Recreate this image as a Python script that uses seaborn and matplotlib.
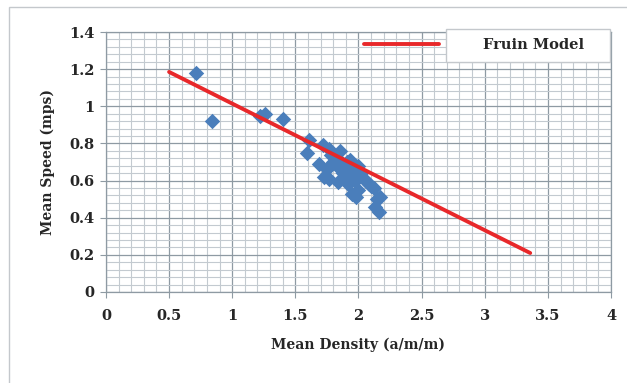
import matplotlib
matplotlib.use('Agg')
import matplotlib.pyplot as plt
from matplotlib.patches import Rectangle
from matplotlib.ticker import MultipleLocator, FormatStrFormatter
import seaborn as sns
import pandas as pd

density = [0.71, 0.84, 1.22, 1.26, 1.40, 1.61, 1.59, 1.72, 1.69, 1.77,
           1.85, 1.81, 1.75, 1.77, 1.84, 1.90, 1.93, 1.96, 1.88, 1.83,
           2.00, 2.04, 2.08, 1.95, 1.98, 2.12, 2.17, 2.13, 2.16, 1.92,
           1.86, 1.80, 1.97, 2.02, 1.89, 1.94, 2.06, 1.78, 1.91, 2.00,
           2.15, 1.87, 1.99, 2.10, 1.73]
speed = [1.18, 0.92, 0.95, 0.96, 0.93, 0.82, 0.75, 0.79, 0.69, 0.77,
         0.76, 0.73, 0.66, 0.61, 0.59, 0.67, 0.71, 0.64, 0.64, 0.68,
         0.68, 0.61, 0.58, 0.53, 0.51, 0.56, 0.51, 0.46, 0.43, 0.58,
         0.70, 0.70, 0.60, 0.64, 0.62, 0.66, 0.60, 0.74, 0.70, 0.55,
         0.50, 0.67, 0.63, 0.57, 0.62]

# Fruin model line end points
fruin_density = [0.5, 3.36]
fruin_speed = [1.185, 0.21]

df = pd.DataFrame({'density': density, 'speed': speed})
fruin = pd.DataFrame({'density': fruin_density, 'speed': fruin_speed})

sns.set_style('white')
plt.rcParams['font.family'] = ['DejaVu Serif']

fig = plt.figure(figsize=(6.27, 3.83), dpi=100)
ax = fig.add_axes([0.169, 0.2376, 0.8055, 0.6788])

# outer chart border
fig.patches.append(Rectangle((9 / 627, -0.1), 1.0, 1.1 - 7 / 383, transform=fig.transFigure,
                             fill=False, edgecolor='#c4c8cc', linewidth=1.0))

sns.scatterplot(data=df, x='density', y='speed', marker='D', s=62, color='#4a7ebb',
                edgecolor='#4a7ebb', linewidth=0, ax=ax, zorder=3, legend=False)
sns.lineplot(data=fruin, x='density', y='speed', color='#e8282a', linewidth=2.8,
             ax=ax, zorder=4, label='Fruin Model')

ax.set_xlim(0, 4)
ax.set_ylim(0, 1.4)
ax.xaxis.set_major_locator(MultipleLocator(0.5))
ax.xaxis.set_minor_locator(MultipleLocator(0.1))
ax.yaxis.set_major_locator(MultipleLocator(0.2))
ax.yaxis.set_minor_locator(MultipleLocator(0.04))
ax.xaxis.set_major_formatter(FormatStrFormatter('%g'))
ax.yaxis.set_major_formatter(FormatStrFormatter('%g'))
ax.grid(which='major', color='#8e9aa3', linewidth=0.9)
ax.grid(which='minor', color='#c3cad0', linewidth=0.8)
ax.set_axisbelow(True)
for s in ax.spines.values():
    s.set_color('#8e9aa3')
    s.set_linewidth(0.9)

ax.tick_params(axis='both', which='major', labelsize=10.5, length=4, color='#8e9aa3',
               bottom=True, left=True)
ax.tick_params(axis='x', pad=8)
ax.tick_params(axis='y', pad=4)
for lab in ax.get_xticklabels() + ax.get_yticklabels():
    lab.set_fontweight('bold')

ax.set_xlabel('Mean Density (a/m/m)', fontsize=10, fontweight='bold', labelpad=11)
ax.set_ylabel('Mean Speed (mps)', fontsize=10, fontweight='bold', labelpad=10)

leg = ax.legend(loc='upper left', bbox_to_anchor=(0.484, 1.028), frameon=False,
                handlelength=5.2, handletextpad=3.0,
                prop={'weight': 'bold', 'size': 10.5})
# Excel style box drawn only around the legend text
ax.add_patch(Rectangle((0.673, 0.885), 0.325, 0.127, transform=ax.transAxes,
                       facecolor='white', edgecolor='#c4c8cc', linewidth=1.0,
                       clip_on=False, zorder=5))
leg.set_zorder(6)

fig.savefig('out.png', dpi=100)
